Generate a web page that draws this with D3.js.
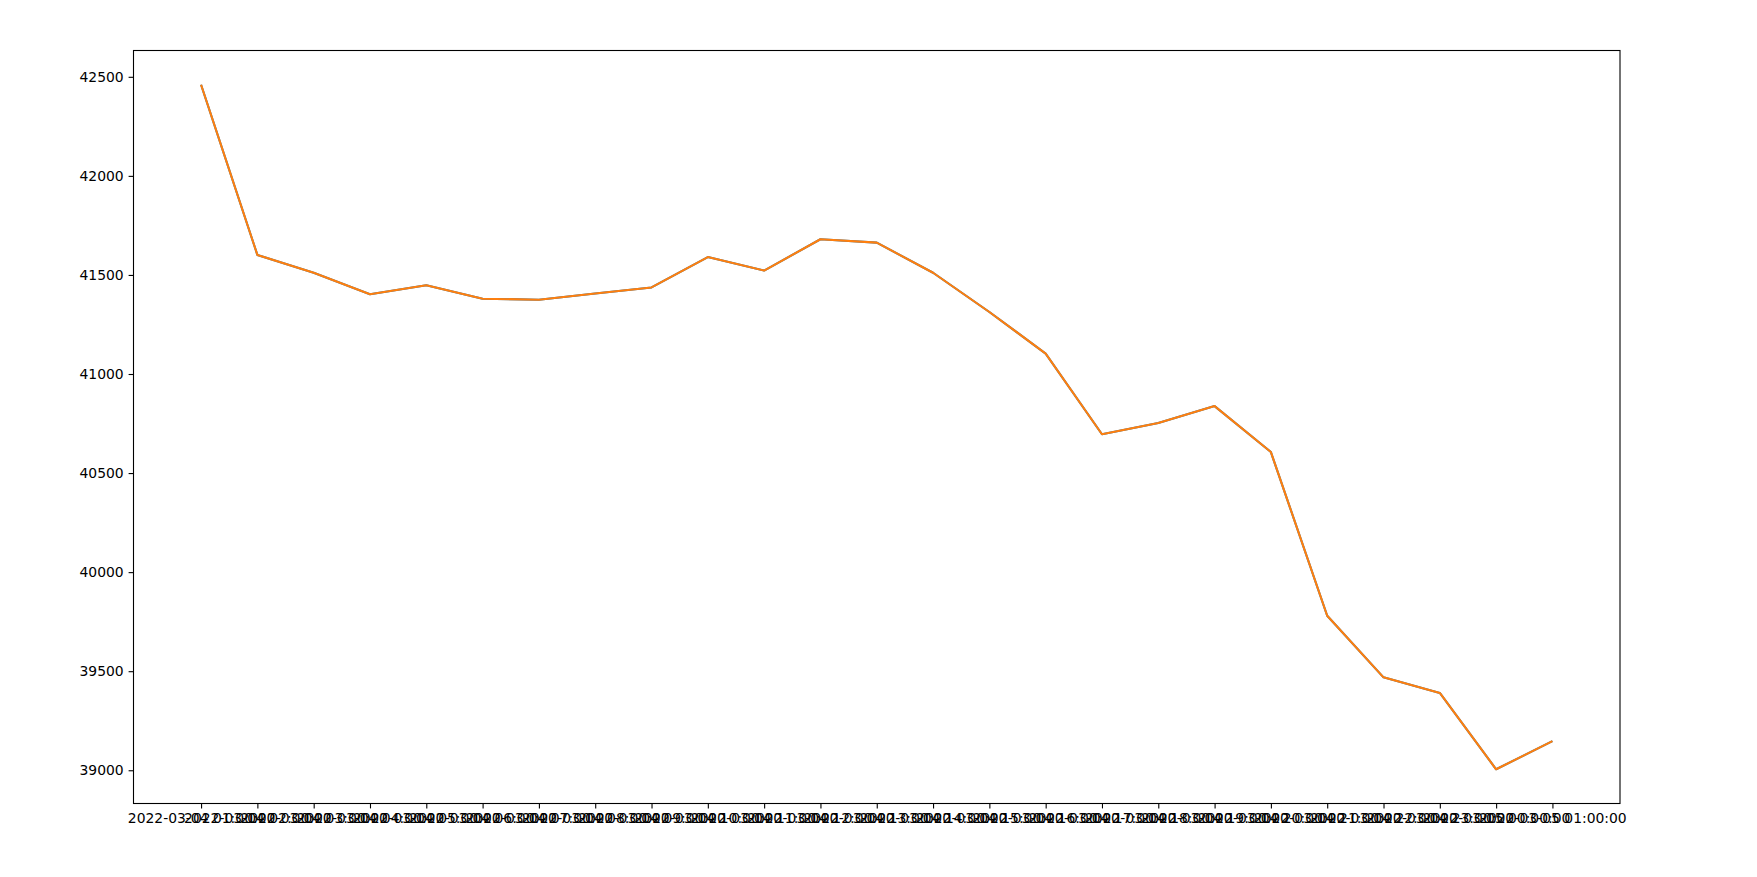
<!DOCTYPE html>
<head>
  <meta charset="utf-8">
  <script src="https://d3js.org/d3.v7.min.js"></script>
  <style>
    body { margin:0; padding:0; background:#fff; }
    .tick text { font-family: "DejaVu Sans", sans-serif; font-size: 13.9px; fill:#000; }
    .tick line { stroke:#000; stroke-width:1.1px; }
    .domain { display:none; }
  </style>
</head>
<body>
  <script>
    var width = 1757, height = 877;
    var margin = {top:50.5, right:137, bottom:73.5, left:133.5};

    // hourly timestamps (x tick labels)
    var times = [
      "2022-03-04 01:00:00", "2022-03-04 02:00:00", "2022-03-04 03:00:00", "2022-03-04 04:00:00",
      "2022-03-04 05:00:00", "2022-03-04 06:00:00", "2022-03-04 07:00:00", "2022-03-04 08:00:00",
      "2022-03-04 09:00:00", "2022-03-04 10:00:00", "2022-03-04 11:00:00", "2022-03-04 12:00:00",
      "2022-03-04 13:00:00", "2022-03-04 14:00:00", "2022-03-04 15:00:00", "2022-03-04 16:00:00",
      "2022-03-04 17:00:00", "2022-03-04 18:00:00", "2022-03-04 19:00:00", "2022-03-04 20:00:00",
      "2022-03-04 21:00:00", "2022-03-04 22:00:00", "2022-03-04 23:00:00", "2022-03-05 00:00:00",
      "2022-03-05 01:00:00"
    ];
    // price values
    var prices = [
      42460, 41601, 41511, 41403, 41448, 41380, 41375, 41406, 41437, 41590,
      41522, 41680, 41663, 41511, 41313, 41103, 40696, 40753, 40838, 40606,
      39780, 39469, 39390, 39005, 39147
    ];
    var yTicks = [39000, 39500, 40000, 40500, 41000, 41500, 42000, 42500];

    var svg = d3.select("body").append("svg")
      .attr("width", width).attr("height", height);

    var iw = width - margin.left - margin.right,
        ih = height - margin.top - margin.bottom;

    var n = times.length;
    // matplotlib style 5% margins
    var x = d3.scaleLinear().domain([-0.05 * (n - 1), (n - 1) * 1.05]).range([margin.left, margin.left + iw]);
    var ext = d3.extent(prices), pad = (ext[1] - ext[0]) * 0.05;
    var y = d3.scaleLinear().domain([ext[0] - pad, ext[1] + pad]).range([margin.top + ih, margin.top]);

    var data = prices.map(function(p, i) { return {i: i, v: p}; });
    var line = d3.line().x(function(d) { return x(d.i); }).y(function(d) { return y(d.v); });

    // axes
    svg.append("g").attr("transform", "translate(0," + (margin.top + ih) + ")")
      .call(d3.axisBottom(x).tickValues(d3.range(n)).tickFormat(function(i) { return times[i]; })
        .tickSize(4.9).tickPadding(4.9));
    svg.append("g").attr("transform", "translate(" + margin.left + ",0)")
      .call(d3.axisLeft(y).tickValues(yTicks).tickFormat(d3.format("d"))
        .tickSize(4.9).tickPadding(4.9));

    // two identical series, orange drawn over blue
    svg.append("path").datum(data)
      .attr("d", line).attr("fill", "none")
      .attr("stroke", "#1f77b4").attr("stroke-width", 2.08).attr("stroke-linejoin", "round");
    svg.append("path").datum(data)
      .attr("d", line).attr("fill", "none")
      .attr("stroke", "#ff7f0e").attr("stroke-width", 2.08).attr("stroke-linejoin", "round");

    // frame
    svg.append("rect")
      .attr("x", margin.left).attr("y", margin.top)
      .attr("width", iw).attr("height", ih)
      .attr("fill", "none").attr("stroke", "#000").attr("stroke-width", 1.1);
  </script>
</body>
